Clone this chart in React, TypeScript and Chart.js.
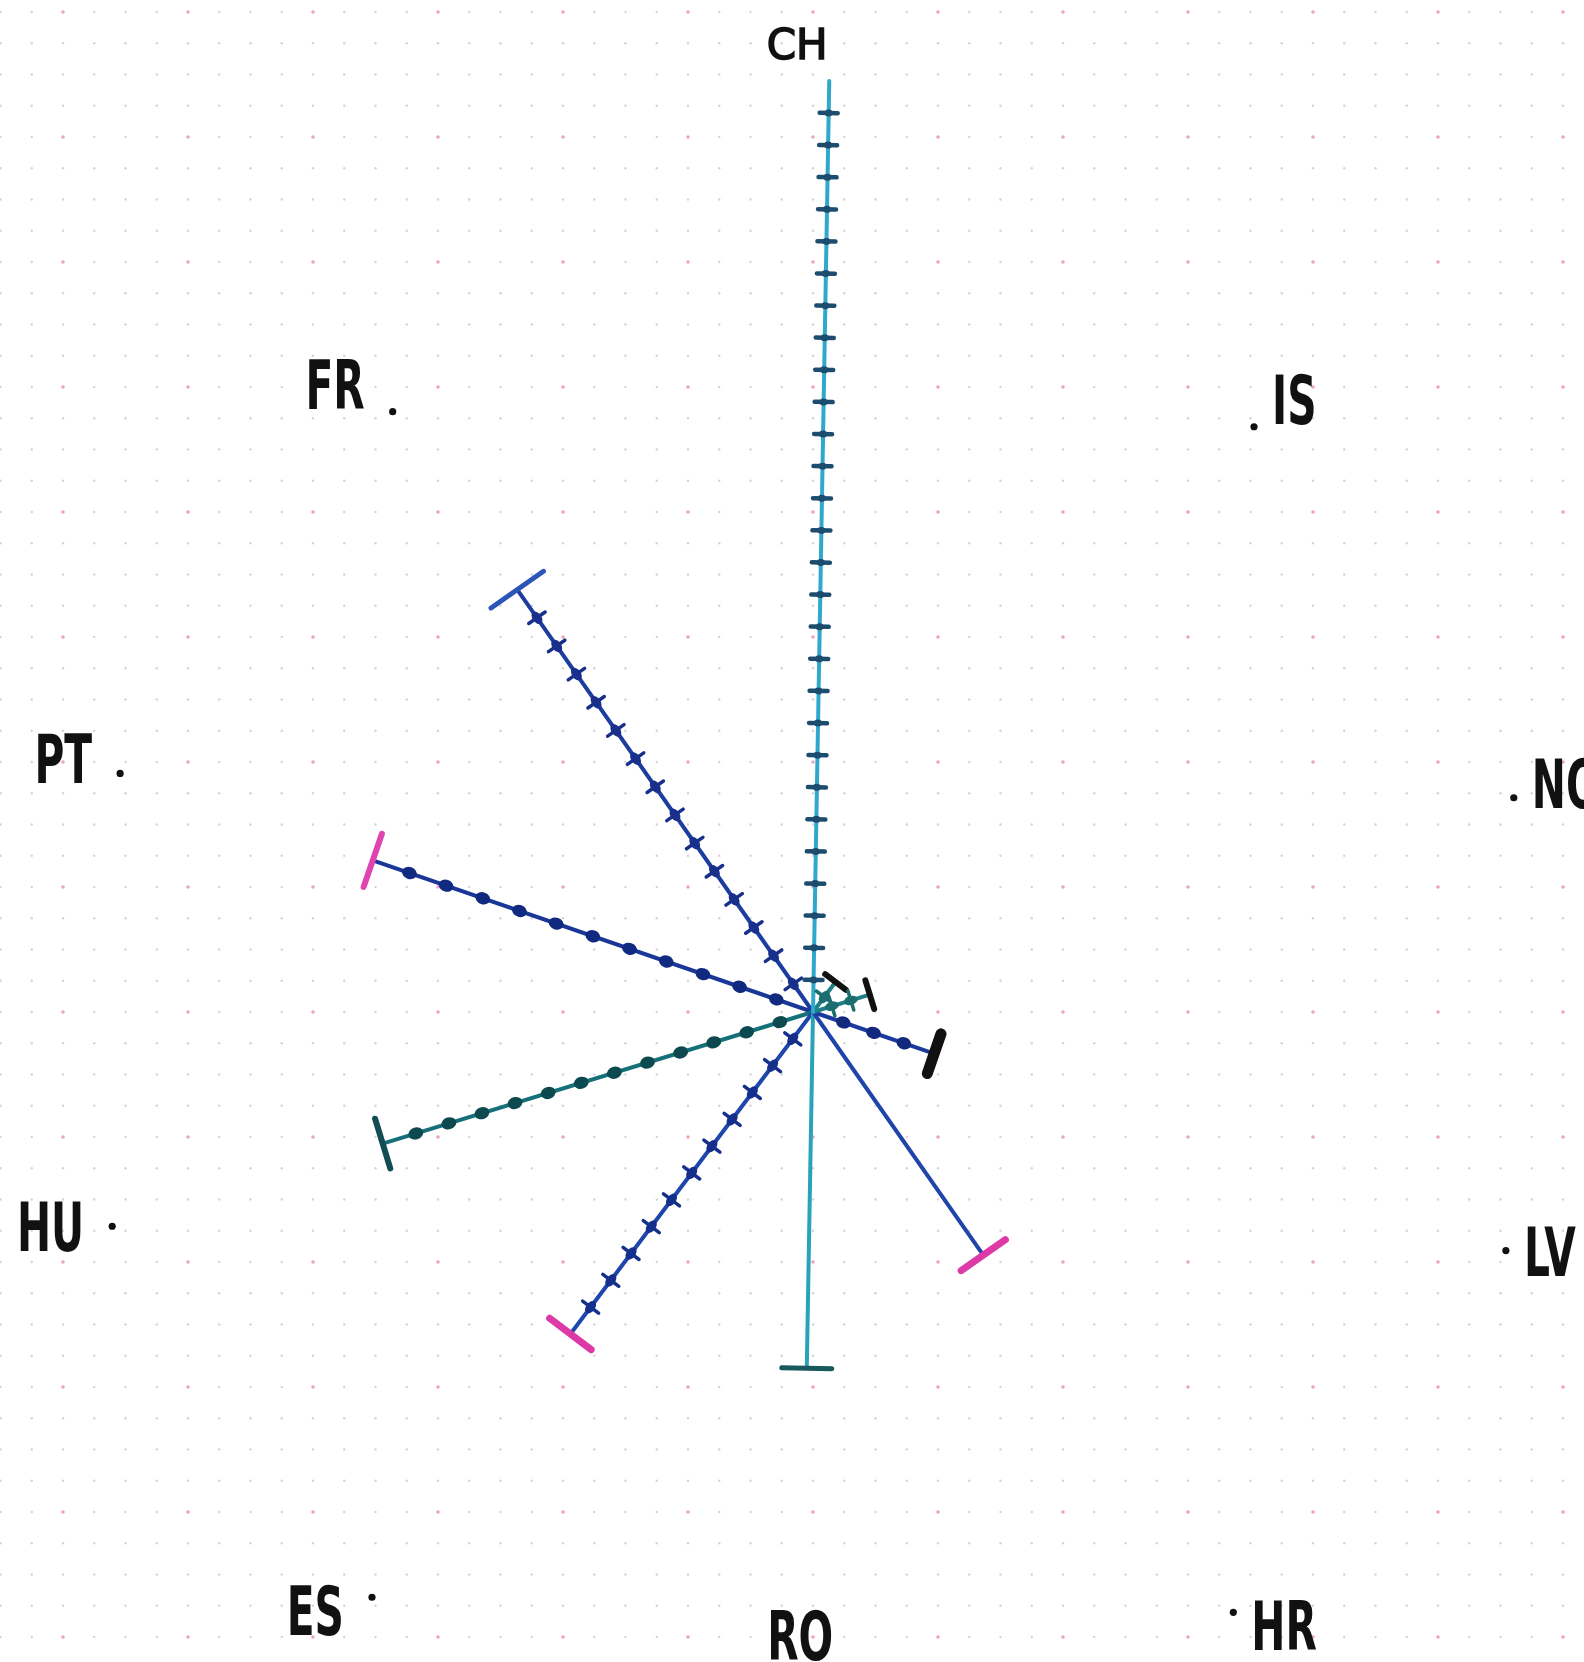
import React, { useEffect, useRef } from "react";
import { Chart, registerables } from "chart.js";

Chart.register(...registerables);

// ---- data ----
const categories = ["CH", "IS", "NO", "LV", "HR", "RO", "ES", "HU", "PT", "FR"];
const values = [29.8, 1.2, 1.9, 4.1, 9.5, 11.4, 12.9, 14.4, 14.9, 16.5];
const tickCounts = [28, 1, 2, 3, 0, 0, 11, 12, 11, 14];
const tickStyles = ["dash", "cross", "cross", "dot", "none", "none", "cross", "dot", "dot", "cross"];

// ---- styles ----
const lineColors = ["#2fa8cc", "#1f7f86", "#1f7f86", "#1a3a9e", "#1f44aa", "#2aa3b6", "#1f46aa", "#15707a", "#1a3798", "#1c3ca0"];
const capColors = ["#4169c6", "#111111", "#111111", "#111111", "#dd3aa8", "#19585c", "#dd3aa8", "#124d55", "#e044b0", "#2c55b8"];
const tickColors = ["#1d4d6e", "#1b6d70", "#1b6d70", "#13297e", "#13297e", "#13297e", "#15308c", "#0d4a50", "#102a80", "#18308c"];
const capHalf = [28, 13, 15, 21, 27, 25, 26, 26, 28, 32];
const capWidth = [4.5, 6, 6, 11, 7, 5, 7, 6, 6, 5];

const START_ANGLE = 1;
const SCALE_MAX = 20.8;
const LABEL_R = 23.45;

const bgPlugin = {
  id: "dotPaper",
  beforeDraw(chart: any) {
    const ctx = chart.ctx;
    const s = chart.scales.r;
    ctx.save();
    ctx.fillStyle = "#ffffff";
    ctx.fillRect(0, 0, chart.width, chart.height);
    const unit = s.getDistanceFromCenterForValue(1) - s.getDistanceFromCenterForValue(0);
    const cx = s.xCenter;
    const cy = s.yCenter;
    const i0 = -Math.ceil(cx / unit);
    const i1 = Math.ceil((chart.width - cx) / unit);
    const j0 = -Math.ceil(cy / unit);
    const j1 = Math.ceil((chart.height - cy) / unit);
    for (let i = i0; i <= i1; i++) {
      for (let j = j0; j <= j1; j++) {
        const pink = i % 4 === 0 && j % 4 === 0;
        ctx.fillStyle = pink ? "#efa3c3" : "#d4d4d7";
        ctx.beginPath();
        ctx.arc(cx + i * unit, cy + j * unit, pink ? 1.8 : 1.2, 0, Math.PI * 2);
        ctx.fill();
      }
    }
    ctx.restore();
  },
  beforeDatasetsDraw(chart: any) {
    chart.ctx.lineCap = "round";
  },
};

const ticksPlugin = {
  id: "spokeTicks",
  afterDatasetsDraw(chart: any) {
    const ctx = chart.ctx;
    const s = chart.scales.r;
    ctx.lineCap = "butt";
    ctx.save();
    categories.forEach((_, i) => {
      const n = tickCounts[i];
      const st = tickStyles[i];
      if (!n || st === "none") return;
      const a = s.getIndexAngle(i);
      const px = Math.cos(a);
      const py = Math.sin(a);
      ctx.strokeStyle = tickColors[i];
      ctx.fillStyle = tickColors[i];
      ctx.lineCap = "round";
      for (let k = 1; k <= n; k++) {
        const p = s.getPointPositionForValue(i, (values[i] * k) / (n + 1));
        if (st === "dash") {
          ctx.lineWidth = 4.5;
          ctx.beginPath();
          ctx.moveTo(p.x - px * 9, p.y - py * 9);
          ctx.lineTo(p.x + px * 9, p.y + py * 9);
          ctx.stroke();
          ctx.beginPath();
          ctx.ellipse(p.x, p.y, 3.5, 4, a - Math.PI / 2, 0, Math.PI * 2);
          ctx.fill();
        } else if (st === "cross") {
          ctx.lineWidth = 3.5;
          ctx.beginPath();
          ctx.moveTo(p.x - px * 10, p.y - py * 10);
          ctx.lineTo(p.x + px * 10, p.y + py * 10);
          ctx.stroke();
          ctx.beginPath();
          ctx.ellipse(p.x, p.y, 7, 4.5, a - Math.PI / 2, 0, Math.PI * 2);
          ctx.fill();
        } else {
          ctx.beginPath();
          ctx.ellipse(p.x, p.y, 7.5, 6, a - Math.PI / 2, 0, Math.PI * 2);
          ctx.fill();
        }
      }
    });
    ctx.restore();
  },
};

const labelsPlugin = {
  id: "handLabels",
  afterDraw(chart: any) {
    const ctx = chart.ctx;
    const s = chart.scales.r;
    ctx.save();
    ctx.fillStyle = "#111111";
    categories.forEach((label, i) => {
      const a = s.getIndexAngle(i);
      const sin = Math.sin(a);
      const cos = Math.cos(a);
      if (values[i] > LABEL_R) {
        // label sits just beyond the end of a long spoke
        const p = s.getPointPositionForValue(i, values[i]);
        ctx.font = '42px "DejaVu Sans", sans-serif';
        ctx.textAlign = "center";
        ctx.textBaseline = "middle";
        ctx.lineWidth = 1.6;
        ctx.strokeStyle = "#111111";
        ctx.fillText(label, p.x - 32, p.y - 33);
        ctx.strokeText(label, p.x - 32, p.y - 33);
        return;
      }
      const p = s.getPointPositionForValue(i, LABEL_R);
      let x = p.x;
      let y = p.y;
      let align: CanvasTextAlign = "center";
      let dot = true;
      if (y > chart.height - 20) {
        y = chart.height - 20;
        dot = false;
      } else if (sin < -0.1) {
        align = "right";
        x = p.x - 28;
        y = p.y - cos * 25;
      } else if (sin > 0.1) {
        align = "left";
        x = p.x + 18;
        y = p.y - cos * 25;
      }
      if (dot) {
        ctx.beginPath();
        ctx.arc(p.x, p.y, 3.6, 0, Math.PI * 2);
        ctx.fill();
      }
      ctx.font = 'bold 68px "DejaVu Sans", sans-serif';
      ctx.textAlign = align;
      ctx.textBaseline = "middle";
      ctx.save();
      ctx.translate(x, y);
      ctx.scale(0.6, 1);
      ctx.fillText(label, 0, 0);
      ctx.restore();
    });
    ctx.restore();
  },
};

export default function App() {
  const ref = useRef<HTMLCanvasElement>(null);

  useEffect(() => {
    if (!ref.current) return;
    const stepDeg = 360 / categories.length;
    const chart = new Chart(ref.current, {
      type: "radar",
      data: {
        labels: categories,
        datasets: categories.map((c, i) => ({
          label: c,
          data: categories.map((_, j) => (j === i ? values[i] : 0)),
          borderColor: lineColors[i],
          backgroundColor: "transparent",
          borderWidth: 4,
          borderCapStyle: "round",
          borderJoinStyle: "round",
          fill: false,
          tension: 0,
          clip: false,
          pointStyle: "line",
          pointRadius: (ctx: any) => (ctx.dataIndex === i ? capHalf[i] : 0),
          pointHoverRadius: (ctx: any) => (ctx.dataIndex === i ? capHalf[i] : 0),
          pointBorderWidth: capWidth[i],
          pointBorderColor: capColors[i],
          pointBackgroundColor: capColors[i],
          pointRotation: START_ANGLE + i * stepDeg,
        })),
      } as any,
      options: {
        animation: false,
        responsive: true,
        maintainAspectRatio: false,
        events: [],
        layout: { padding: { left: 42, top: 362, right: 0, bottom: 0 } },
        plugins: {
          legend: { display: false },
          tooltip: { enabled: false },
          title: { display: false },
        },
        scales: {
          r: {
            min: 0,
            max: SCALE_MAX,
            startAngle: START_ANGLE,
            grid: { display: false },
            angleLines: { display: false },
            pointLabels: { display: false },
            ticks: { display: false },
          },
        },
      } as any,
      plugins: [bgPlugin, ticksPlugin, labelsPlugin],
    });
    return () => chart.destroy();
  }, []);

  return (
    <div style={{ position: "absolute", left: 0, top: 0, width: 1584, height: 1662, background: "#ffffff" }}>
      <canvas ref={ref} />
    </div>
  );
}
